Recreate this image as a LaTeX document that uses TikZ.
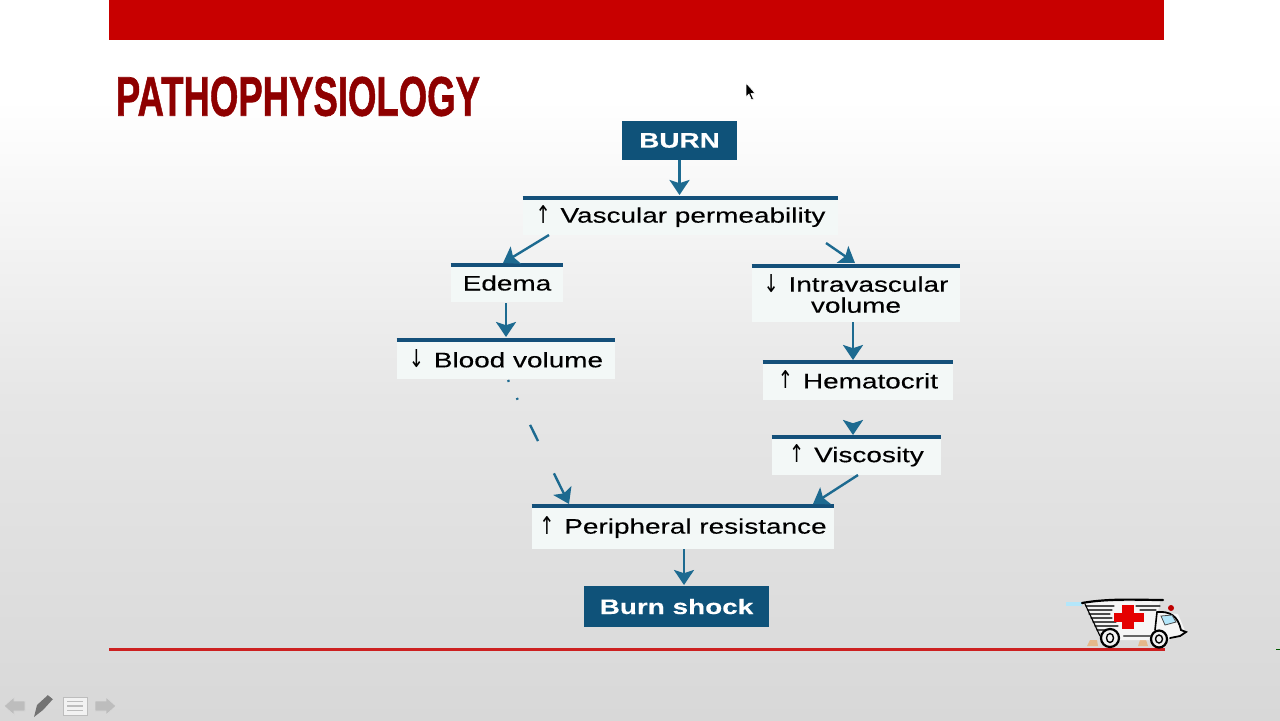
\documentclass[tikz,border=0pt]{standalone}
\usepackage{fontspec}
\usepackage{graphicx}
\usetikzlibrary{arrows.meta}
\setmainfont{Liberation Sans}
\newfontfamily\diagfont[FakeStretch=1.33,FakeBold=0.25]{Liberation Sans}
\newfontfamily\arrowfont{DejaVu Sans}
\newfontfamily\titlefont[FakeBold=1.2]{Liberation Sans Bold}
\newcommand{\upmark}{\makebox[12.5pt][l]{\raisebox{-.2pt}{\resizebox{7.6pt}{9pt}{\arrowfont ↑}}}}
\newcommand{\downmark}{\makebox[12.5pt][l]{\raisebox{-.2pt}{\resizebox{7.6pt}{9pt}{\arrowfont ↓}}}}
\definecolor{navy}{HTML}{0F5279}
\definecolor{barblue}{HTML}{14507A}
\definecolor{teal1}{HTML}{1D6A90}
\definecolor{boxfill}{HTML}{F3F8F7}
\definecolor{topred}{HTML}{C80000}
\definecolor{linered}{HTML}{CC2020}
\definecolor{titlered}{HTML}{8E0000}
\definecolor{navgray}{HTML}{BDBDBD}
\definecolor{bgmid}{HTML}{E6E6E6}
\definecolor{bgend}{HTML}{D8D8D8}
\tikzset{
 solidbox/.style={fill=navy,draw=none,inner sep=0pt,text=white,font=\diagfont\bfseries\fontsize{10.5}{11}\selectfont,align=center},
 lightbox/.style={fill=boxfill,draw=none,inner sep=0pt,text=black,font=\diagfont\fontsize{10.5}{10.5}\selectfont,align=center},
 topbar/.style={draw=barblue,line width=2pt},
 flow/.style={draw=teal1,line width=1.2pt,-{Stealth[length=7.5pt,width=10pt,inset=1.6pt]}},
 sketch/.style={draw=black,line width=.55pt,line cap=round},
 navicon/.style={fill=navgray,draw=white!85!black,line width=.4pt},
}
\begin{document}
\begin{tikzpicture}[x=0.5pt,y=-0.5pt]
\useasboundingbox (0,0) rectangle (1280,720);
% background
\fill[white] (0,0) rectangle (1280,100);
\shade[top color=white,bottom color=bgmid] (0,99.5) rectangle (1280,400);
\shade[top color=bgmid,bottom color=bgend] (0,399.5) rectangle (1280,720);
% frame
\fill[topred] (109,0) rectangle (1164,40);
\draw[linered,line width=1.5pt] (109,649) -- (1165,649);
\fill[green!35!black] (1276,648.5) rectangle (1280,650);
% title
\node[anchor=west,inner sep=0pt,text=titlered] (title) at (115.5,96.5)
 {\resizebox{182pt}{19.5pt}{\titlefont PATHOPHYSIOLOGY}};
% nodes
\node[solidbox,minimum width=57.5pt,minimum height=19.5pt] (burn) at (679.5,140.5) {BURN};
\node[lightbox,minimum width=157.5pt,minimum height=19pt] (vasc) at (680.5,216) {\upmark Vascular permeability};
\node[lightbox,minimum width=56pt,minimum height=19pt] (edema) at (507,283) {Edema};
\node[lightbox,minimum width=104pt,minimum height=28.5pt] (intra) at (856,293.5) {\downmark Intravascular\\volume};
\node[lightbox,minimum width=109pt,minimum height=20pt] (blood) at (506,359) {\raisebox{.5pt}{\downmark Blood volume}};
\node[lightbox,minimum width=95pt,minimum height=19.5pt] (hema) at (858,380.5) {\raisebox{.9pt}{\upmark Hematocrit}};
\node[lightbox,minimum width=84.5pt,minimum height=19.5pt] (visc) at (856.5,455.5) {\upmark Viscosity};
\node[lightbox,minimum width=151pt,minimum height=22pt] (peri) at (683,527) {\upmark Peripheral resistance};
\node[solidbox,minimum width=92.5pt,minimum height=20.5pt] (shock) at (676.5,606.5) {Burn shock};
% top bars
\foreach \n in {vasc,edema,intra,blood,hema,visc,peri}
  \draw[topbar] ([yshift=-.8pt]\n.north west) -- ([yshift=-.8pt]\n.north east);
% connector end points
\coordinate (a1) at (549,235);
\coordinate (a2) at (503,263);
\coordinate (b1) at (826,243);
\coordinate (b2) at (855,263);
\coordinate (c1) at (506,303);
\coordinate (c2) at (506,337);
\coordinate (d1) at (853,322);
\coordinate (d2) at (853,360);
\coordinate (e1) at (853,400);
\coordinate (e2) at (853,435);
\coordinate (f1) at (858,475);
\coordinate (f2) at (813,504);
\coordinate (g1) at (508,380);
\coordinate (g2) at (569,504);
\coordinate (h1) at (684,549);
\coordinate (h2) at (684,585);
\coordinate (i1) at (679.5,160);
\coordinate (i2) at (679.5,195);
% connectors
\draw[flow] (i1) -- (i2);
\draw[flow] (a1) -- (a2);
\draw[flow] (b1) -- (b2);
\draw[flow] (c1) -- (c2);
\draw[flow] (d1) -- (d2);
\draw[flow,dash pattern=on 0pt off 100pt] (e1) -- (e2);
\draw[flow] (f1) -- (f2);
\draw[flow] (h1) -- (h2);
\draw[flow,dash pattern=on 1pt off 9pt on 1pt off 14pt on 9pt off 18pt on 40pt off 50pt] (g1) -- (g2);
% cursor
\fill[black,draw=white,line width=.3pt] (746,83) -- (746,97) -- (749,94) -- (751.5,100) -- (753.5,99) -- (751,93.5) -- (755,93) -- cycle;
% ambulance
\fill[cyan!30!white] (1066,602) rectangle (1082,606);
\fill[orange!45!white!80!gray] (1090,640) -- (1097,640) -- (1098,646) -- (1087,646) -- cycle;
\fill[orange!45!white!80!gray] (1140,640) -- (1146,640) -- (1148,646) -- (1138,646) -- cycle;
\fill[white!93!gray] (1084,602) -- (1160,601) -- (1158,612) -- (1178,614) -- (1186,633) -- (1165,640) -- (1105,640) -- cycle;
\draw[sketch,line width=1.1pt] (1082,603) .. controls (1110,598) and (1140,600) .. (1163,600);
\foreach \yy/\xa/\xb in {606/1086/1114,610/1088/1112,614/1089/1110,618/1091/1112,622/1093/1116,626/1095/1118,630/1097/1114,606/1136/1160,610/1140/1156}
  \draw[sketch,black!70] (\xa,\yy) -- (\xb,\yy);
\draw[sketch] (1085,604) -- (1100,636);
\fill[red!90!black] (1122,605) rectangle (1134,629);
\fill[red!90!black] (1114,613) rectangle (1144,622);
\draw[sketch,line width=.9pt] (1157,612) .. controls (1170,611) and (1178,616) .. (1181,630) -- (1186,632) -- (1180,636) -- (1170,638);
\draw[sketch,line width=.8pt] (1157,612) -- (1155,630);
\fill[cyan!30!white,draw=black!70,line width=.4pt] (1161,616) -- (1172,615) -- (1176,622) -- (1165,625) -- cycle;
\fill[red!75!black] (1171,608) circle (3);
\draw[sketch,black!60,line width=1.2pt] (1124,636) -- (1150,636);
\draw[sketch,line width=1.1pt,fill=white!90!gray] (1110,638) ellipse (9 and 9);
\draw[sketch,line width=.7pt] (1110,638) ellipse (3.5 and 4.5);
\draw[sketch,line width=1.1pt,fill=white!90!gray] (1159,639) ellipse (8 and 8.5);
\draw[sketch,line width=.7pt] (1159,639) ellipse (3.5 and 4);
% nav icons
\fill[navicon] (4,706) -- (14,697) -- (14,701) -- (25,701) -- (25,711) -- (14,711) -- (14,715) -- cycle;
\fill[navicon] (116,706) -- (106,697) -- (106,701) -- (95,701) -- (95,711) -- (106,711) -- (106,715) -- cycle;
\fill[white!45!black] (34,717) -- (37,705) -- (48,695) -- (53,699) -- (43,710) -- cycle;
\fill[white!85!black] (48,695) -- (51,693) -- (55,697) -- (53,699) -- cycle;
\fill[white!95!black,draw=navgray,line width=.5pt] (63,697) rectangle (87,715);
\foreach \yy in {701.5,706,710.5}
 \draw[navgray,line width=.8pt] (67,\yy) -- (83,\yy);
\end{tikzpicture}
\end{document}
